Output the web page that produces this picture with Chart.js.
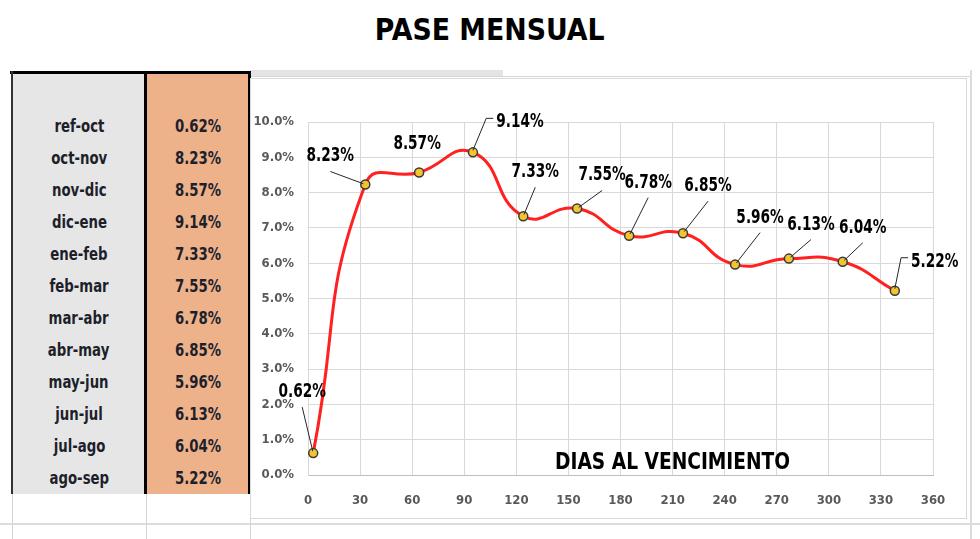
<!DOCTYPE html>
<html>
<head>
<meta charset="utf-8">
<script src="https://cdn.jsdelivr.net/npm/chart.js@4.4.1/dist/chart.umd.min.js"></script>
<style>
  body { margin: 0; width: 980px; height: 539px; background: #fff; position: relative; overflow: hidden;
         font-family: "DejaVu Sans Condensed", "DejaVu Sans", sans-serif; }
  #title { position: absolute; left: 0; width: 980px; top: 11px; text-align: center; font-weight: bold;
           font-size: 31px; color: #000; }
  #title span { display: inline-block; transform: scaleX(0.96); }
  .cell { position: absolute; }
  #col1 { position: absolute; left: 12px; top: 74px; width: 134px; height: 420px; background: #E7E6E6; }
  #col2 { position: absolute; left: 146px; top: 74px; width: 104px; height: 420px; background: #EDB28A; }
  .row { position: absolute; height: 32px; line-height: 32px; text-align: center; font-weight: bold;
         font-size: 18px; color: #1d1f2b; }
  .row span { display: inline-block; transform: scaleX(0.82); }
  #chartBox { position: absolute; left: 250px; top: 78px; width: 717px; height: 441px;
              border: 1px solid #d9d9d9; box-sizing: border-box; background: #fff; }
  #chart { display: block; }
</style>
</head>
<body>
<div id="title"><span>PASE MENSUAL</span></div>

<!-- hoja: celdas y bordes -->
<div class="cell" style="left:250px;top:70px;width:253px;height:6px;background:#e4e4e4;"></div>
<div class="cell" style="left:250px;top:76px;width:722px;height:1px;background:#d6d6d6;"></div>
<div class="cell" style="left:0;top:523px;width:980px;height:2px;background:#dcdcdc;"></div>
<div class="cell" style="left:12px;top:494px;width:1px;height:45px;background:#d4d4d4;"></div>
<div class="cell" style="left:146px;top:494px;width:1px;height:45px;background:#d4d4d4;"></div>
<div class="cell" style="left:250px;top:494px;width:1px;height:45px;background:#d4d4d4;"></div>
<div class="cell" style="left:970px;top:70px;width:2px;height:469px;background:#dcdcdc;"></div>

<div id="col1"></div>
<div id="col2"></div>
<div class="cell" style="left:10px;top:71px;width:241px;height:3px;background:#000;"></div>
<div class="cell" style="left:11px;top:71px;width:2px;height:423px;background:#333;"></div>
<div class="cell" style="left:144px;top:71px;width:3px;height:423px;background:#000;"></div>
<div class="cell" style="left:248px;top:71px;width:3px;height:423px;background:#000;"></div>
<div id="rows"></div>

<div id="chartBox"><canvas id="chart" width="715" height="439"></canvas></div>

<script>
// tramos y pase mensual (%)
const tramos = ['ref-oct', 'oct-nov', 'nov-dic', 'dic-ene', 'ene-feb', 'feb-mar',
                'mar-abr', 'abr-may', 'may-jun', 'jun-jul', 'jul-ago', 'ago-sep'];
const dias = [3, 33, 64, 95, 124, 155, 185, 216, 246, 277, 308, 338];
const pase = [0.62, 8.23, 8.57, 9.14, 7.33, 7.55, 6.78, 6.85, 5.96, 6.13, 6.04, 5.22];
const xTicks = [0, 30, 60, 90, 120, 150, 180, 210, 240, 270, 300, 330, 360];
const yTicks = [0, 1, 2, 3, 4, 5, 6, 7, 8, 9, 10];

const FONT = '"DejaVu Sans Condensed", "DejaVu Sans", sans-serif';

// tabla
const rowsEl = document.getElementById('rows');
tramos.forEach((t, i) => {
    const top = 110 + i * 32;
    rowsEl.insertAdjacentHTML('beforeend',
        `<div class="row" style="left:12px;width:134px;top:${top}px"><span>${t}</span></div>` +
        `<div class="row" style="left:146px;width:104px;top:${top}px"><span>${pase[i].toFixed(2)}%</span></div>`);
});

// etiquetas movidas a mano como en la planilla: dx/dy desde el punto, tipo de guia
const labelPos = [
    { dx: -11, dy: -61, lead: 'diag' },
    { dx: -35, dy: -28, lead: 'diag' },
    { dx: -2,  dy: -28, lead: 'none' },
    { dx: 47,  dy: -30, lead: 'elbow' },
    { dx: 12,  dy: -44, lead: 'diag' },
    { dx: 25,  dy: -33, lead: 'diag' },
    { dx: 19,  dy: -53, lead: 'diag' },
    { dx: 25,  dy: -47, lead: 'diag' },
    { dx: 25,  dy: -47, lead: 'diag' },
    { dx: 22,  dy: -34, lead: 'diag' },
    { dx: 20,  dy: -34, lead: 'diag' },
    { dx: 40,  dy: -29, lead: 'elbow' }
];

function squeezedText(ctx, txt, x, y, sx) {
    ctx.save();
    ctx.translate(x, y);
    ctx.scale(sx, 1);
    ctx.fillText(txt, 0, 0);
    ctx.restore();
}

const labelsPlugin = {
    id: 'labels',
    afterDatasetsDraw(chart) {
        const ctx = chart.ctx;
        const meta = chart.getDatasetMeta(0);
        ctx.save();
        ctx.font = 'bold 19px ' + FONT;
        ctx.textAlign = 'center';
        ctx.textBaseline = 'middle';
        meta.data.forEach((pt, i) => {
            const p = labelPos[i];
            const lx = pt.x + p.dx, ly = pt.y + p.dy;
            const txt = pase[i].toFixed(2) + '%';
            const w = ctx.measureText(txt).width * 0.8;
            ctx.strokeStyle = '#262626';
            ctx.lineWidth = 1;
            if (p.lead === 'diag') {
                const sx = lx, sy = ly + 15;
                const ang = Math.atan2(pt.y - sy, pt.x - sx);
                ctx.beginPath();
                ctx.moveTo(sx, sy);
                ctx.lineTo(pt.x - Math.cos(ang) * 2, pt.y - Math.sin(ang) * 2);
                ctx.stroke();
            } else if (p.lead === 'elbow') {
                const ex = lx - w / 2 - 3, ey = ly - 4;
                ctx.beginPath();
                ctx.moveTo(ex, ey);
                ctx.lineTo(ex - 7, ey);
                ctx.lineTo(pt.x, pt.y - 2);
                ctx.stroke();
            }
            ctx.fillStyle = '#000';
            squeezedText(ctx, txt, lx, ly, 0.8);
        });
        // titulo del eje dentro del grafico
        const xs = chart.scales.x, ys = chart.scales.y;
        ctx.font = 'bold 23px ' + FONT;
        ctx.fillStyle = '#000';
        squeezedText(ctx, 'DIAS AL VENCIMIENTO', xs.getPixelForValue(210), ys.getPixelForValue(0.34), 0.9);
        ctx.restore();
    }
};

const ctx = document.getElementById('chart').getContext('2d');
const myChart = new Chart(ctx, {
    type: 'line',
    data: {
        datasets: [{
            label: 'Pase mensual',
            data: dias.map((d, i) => ({ x: d, y: pase[i] })),
            borderColor: '#FF2020',
            borderWidth: 3,
            tension: 0.5,
            pointRadius: 4.5,
            pointBackgroundColor: '#F4C430',
            pointBorderColor: '#3a3a3a',
            pointBorderWidth: 1.5
        }]
    },
    options: {
        responsive: false,
        animation: false,
        layout: { padding: { top: 43, right: 33, bottom: 0, left: 0 } },
        plugins: { legend: { display: false }, tooltip: { enabled: false } },
        scales: {
            x: {
                type: 'linear', min: 0, max: 360,
                afterBuildTicks: s => { s.ticks = xTicks.map(v => ({ value: v })); },
                afterFit: s => { s.height = 43; },
                grid: { color: '#D9D9D9', drawTicks: false },
                border: { color: '#BFBFBF' },
                ticks: { color: '#595959', padding: 18, maxRotation: 0,
                         font: { family: FONT, size: 13, weight: 'bold' } }
            },
            y: {
                min: 0, max: 10,
                afterBuildTicks: s => { s.ticks = yTicks.map(v => ({ value: v })); },
                afterFit: s => { s.width = 57; },
                grid: { color: '#D9D9D9', drawTicks: false },
                border: { color: '#D9D9D9' },
                ticks: { color: '#595959', padding: 14, callback: v => v.toFixed(1) + '%',
                         font: { family: FONT, size: 13, weight: 'bold' } }
            }
        }
    },
    plugins: [labelsPlugin]
});
</script>
</body>
</html>
